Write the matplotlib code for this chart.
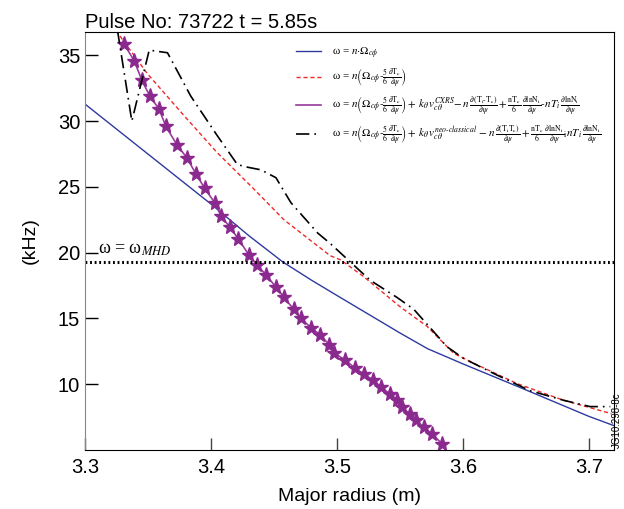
import matplotlib
matplotlib.use("Agg")
import matplotlib.pyplot as plt

plt.rcParams['mathtext.fontset'] = 'stix'
plt.rcParams['font.family'] = ['Liberation Sans', 'DejaVu Sans']

# -------------------------------
# Data
# -------------------------------

# omega = n * Omega_c_phi
blue_r = [3.30, 3.35, 3.40, 3.43, 3.457, 3.48, 3.50, 3.55, 3.572, 3.60, 3.65, 3.70, 3.72]
blue_f = [31.3, 27.5, 23.7, 21.3, 19.3, 17.9, 16.75, 13.9, 12.7, 11.55, 9.57, 7.56, 6.85]

# omega = n(Omega - 5/6 dTc/dpsi)
red_r = [3.3245, 3.3496, 3.3788, 3.405, 3.4318, 3.458, 3.4947, 3.503, 3.521, 3.550,
         3.5716, 3.5927, 3.6086, 3.643, 3.680, 3.718]
red_f = [36.9, 33.6, 30.4, 27.6, 25.06, 22.5, 19.77, 19.45, 18.2, 15.9,
         14.4, 12.35, 11.6, 10.05, 8.78, 7.76]

# neo-classical version
black_r = [3.3258, 3.3372, 3.351, 3.3655, 3.384, 3.405, 3.421, 3.429, 3.4397, 3.4516,
           3.4635, 3.4847, 3.4947, 3.5106, 3.5265, 3.5477, 3.561, 3.574, 3.5874,
           3.6006, 3.627, 3.6536, 3.680, 3.701, 3.717]
black_f = [36.9, 30.0, 35.4, 35.2, 31.9, 28.9, 26.7, 26.5, 26.3, 25.7,
           23.8, 21.5, 20.7, 19.3, 17.9, 16.6, 15.7, 14.3, 12.85,
           11.96, 10.7, 9.5, 8.78, 8.3, 8.3]

# CXRS version (stars)
purple_r = [3.3311, 3.339, 3.3452, 3.3515, 3.3589, 3.3642, 3.373, 3.381, 3.388, 3.395,
            3.403, 3.408, 3.415, 3.4217, 3.4299, 3.4365, 3.4437, 3.4516, 3.4582,
            3.4656, 3.4715, 3.4794, 3.4868, 3.494, 3.4974, 3.5067, 3.5146, 3.5212,
            3.529, 3.535, 3.5418, 3.5477, 3.5517, 3.5577, 3.563, 3.5689, 3.5755, 3.5835]
purple_f = [35.85, 34.6, 33.1, 31.9, 30.9, 29.6, 28.2, 27.2, 26.0, 24.9,
            23.8, 22.8, 21.95, 21.05, 19.86, 19.08, 18.32, 17.38, 16.6,
            15.7, 15.0, 14.3, 13.75, 13.0, 12.4, 11.83, 11.2, 10.8,
            10.3, 9.8, 9.28, 8.78, 8.27, 7.76, 7.25, 6.74, 6.24, 5.46]

omega_mhd = 19.3

labels = [
    r'ω = $n{\cdot}\Omega_{c\phi}$',
    r'ω = $n\left(\Omega_{c\phi}\text{-}\frac{5}{6}\frac{\partial\mathrm{T_c}}{\partial\psi}\right)$',
    r'ω = $n\left(\Omega_{c\phi}\text{-}\frac{5}{6}\frac{\partial\mathrm{T_c}}{\partial\psi}\right)'
    r'+\,k_\theta\,v_{c\theta}^{CXRS}\!-n\,\frac{\partial(\mathrm{T_i\text{-}T_c})}{\partial\psi}'
    r'+\frac{\mathrm{nT_c}}{6}\,\frac{\partial\mathrm{lnN_i}}{\partial\psi}\text{-}nT_i\,\frac{\partial\mathrm{lnN_i}}{\partial\psi}$',
    r'ω = $n\left(\Omega_{c\phi}\text{-}\frac{5}{6}\frac{\partial\mathrm{T_c}}{\partial\psi}\right)'
    r'+\,k_\theta\,v_{c\theta}^{neo\text{-}classical}\,-n\,\frac{\partial(\mathrm{T_iT_c})}{\partial\psi}'
    r'+\frac{\mathrm{nT_c}}{6}\,\frac{\partial\mathrm{lnN_i}}{\partial\psi}{}_{\mathrm{i}}nT_i\,\frac{\partial\mathrm{lnN_i}}{\partial\psi}$',
]

# -------------------------------
# Figure
# -------------------------------

fig = plt.figure(figsize=(6.24, 5.09), dpi=100)
ax = fig.add_axes([0.1362, 0.1159, 0.8478, 0.8218])

l1, = ax.plot(blue_r, blue_f, color='#2e3a9e', lw=1.0)
l2, = ax.plot(red_r, red_f, color='#ee2a2a', lw=1.0, linestyle=(0, (3, 2)))
l3, = ax.plot(purple_r, purple_f, color='#9a3a9c', lw=1.2)
ax.plot(purple_r, purple_f, linestyle='none', marker='*', markersize=11,
        color='#8b2a8e', markeredgecolor='#8b2a8e')
l4, = ax.plot(black_r, black_f, color='black', lw=1.2, linestyle=(0, (8, 3, 1, 3)))

ax.axhline(omega_mhd, color='black', lw=2.2, linestyle=(0, (0.6, 0.9)))
ax.text(3.3105, omega_mhd + 0.3, r'ω = ω$_{MHD}$', fontsize=13,
        family='Liberation Serif', va='bottom', ha='left')

ax.set_xlim(3.3, 3.72)
ax.set_ylim(5.0, 36.8)
ax.set_xticks([3.3, 3.4, 3.5, 3.6, 3.7])
ax.set_yticks([10, 15, 20, 25, 30, 35])
ax.tick_params(direction='in', length=9, width=1, labelsize=14.5)
ax.tick_params(axis='x', colors='#444444', labelcolor='black', pad=6)
ax.spines['left'].set_color('#888888')

ax.set_xlabel('Major radius (m)', fontsize=14, labelpad=8)
ax.set_ylabel('(kHz)', fontsize=14, labelpad=14)
ax.set_title('Pulse No: 73722 t = 5.85s', loc='left', fontsize=14.5, pad=3)

leg = ax.legend([l1, l2, l3, l4], labels, loc='upper left',
                bbox_to_anchor=(0.385, 0.985), frameon=False,
                prop={'family': 'Liberation Serif', 'size': 8},
                handlelength=2.2, handletextpad=1.0, labelspacing=0.5,
                borderaxespad=0.3)

fig.text(0.988, 0.175, 'JG10.298-8c', rotation=90, fontsize=7,
         ha='center', va='center')

plt.savefig('out.png', dpi=100)
plt.close()
